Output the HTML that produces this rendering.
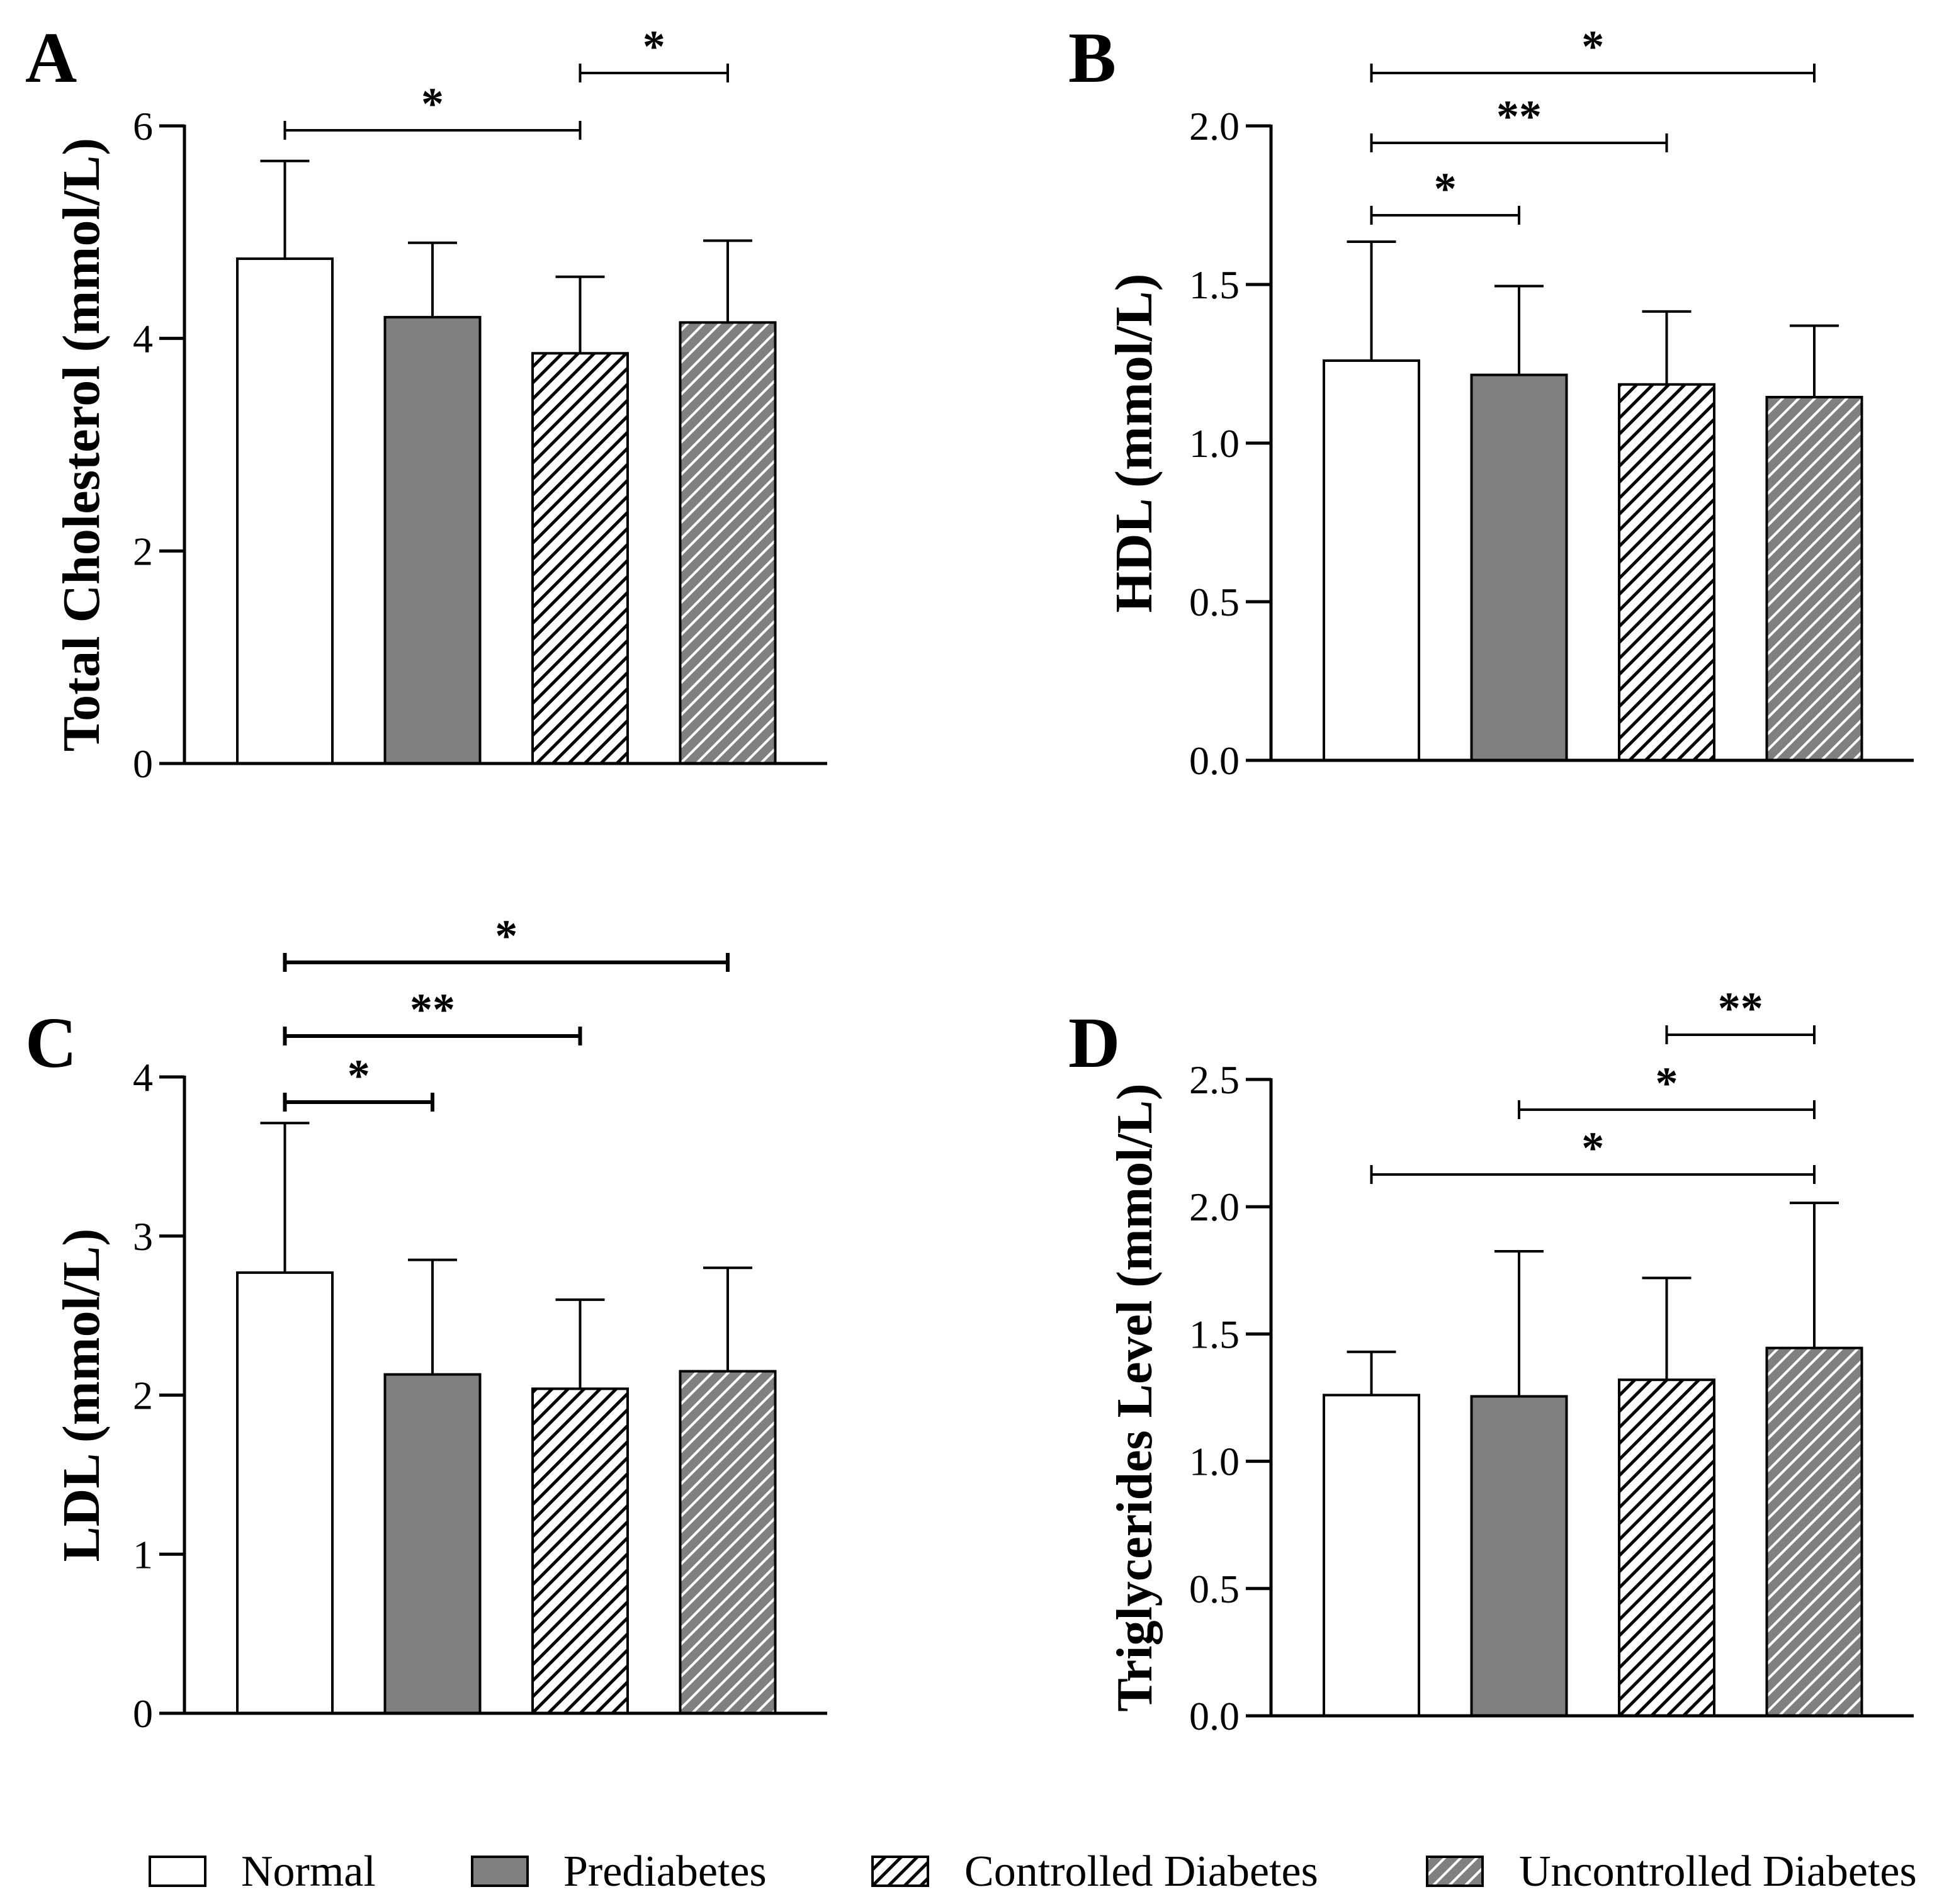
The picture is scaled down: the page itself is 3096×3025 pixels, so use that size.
<!DOCTYPE html>
<html><head><meta charset="utf-8"><style>
html,body{margin:0;padding:0;background:#fff;}
svg{display:block;}
text{font-family:"Liberation Serif",serif;fill:#000;}
</style></head><body>
<svg id="fig" width="3096" height="3025" viewBox="0 0 3096 3025" xmlns="http://www.w3.org/2000/svg">
<defs>
<pattern id="hatchBW" patternUnits="userSpaceOnUse" width="18" height="18" patternTransform="rotate(45)">
<rect width="18" height="18" fill="#fff"/><rect x="0" y="0" width="5" height="18" fill="#000"/>
</pattern>
<pattern id="hatchGW" patternUnits="userSpaceOnUse" width="18" height="18" patternTransform="rotate(45)">
<rect width="18" height="18" fill="#808080"/><rect x="0" y="0" width="4" height="18" fill="#fff"/>
</pattern>
</defs>
</svg>
<script>
const groups = ["Normal","Prediabetes","Controlled Diabetes","Uncontrolled Diabetes"];
const fills = ["#fff","#808080","url(#hatchBW)","url(#hatchGW)"];
const tcMeans = [4.75, 4.2, 3.86, 4.15];
const tcErr = [5.67, 4.9, 4.58, 4.92];
const tcTicks = [0, 2, 4, 6];
const hdlMeans = [1.26, 1.215, 1.185, 1.145];
const hdlErr = [1.635, 1.495, 1.415, 1.37];
const hdlTicks = ["0.0","0.5","1.0","1.5","2.0"];
const ldlMeans = [2.77, 2.13, 2.04, 2.15];
const ldlErr = [3.71, 2.85, 2.6, 2.8];
const ldlTicks = [0, 1, 2, 3, 4];
const tgMeans = [1.26, 1.255, 1.32, 1.445];
const tgErr = [1.43, 1.825, 1.72, 2.015];
const tgTicks = ["0.0","0.5","1.0","1.5","2.0","2.5"];
const tcSig = [[0,2,"*"],[2,3,"*"]];
const hdlSig = [[0,1,"*"],[0,2,"**"],[0,3,"*"]];
const ldlSig = [[0,1,"*"],[0,2,"**"],[0,3,"*"]];
const tgSig = [[0,3,"*"],[1,3,"*"],[2,3,"**"]];

const NS = "http://www.w3.org/2000/svg";
const svg = document.getElementById("fig");
function mk(tag, attrs, parent){
  const e = document.createElementNS(NS, tag);
  for (const k in attrs) e.setAttribute(k, attrs[k]);
  (parent||svg).appendChild(e);
  return e;
}
function panel(p){
  const g = mk("g", {});
  
  
  const maxV = parseFloat(p.ticks[p.ticks.length-1]);
  const y = v => p.y0 - (v/maxV)*(p.y0 - p.yTop);
  const barW = 151, gap = 234.5, off = 84;
  const xc = i => p.ax + off + i*gap + barW/2;
  const L = mk("text", {x:p.letterX, y:p.letterY, "font-size":114, "font-weight":"bold"}, g);
  L.textContent = p.letter;
  
  
  p.ticks.forEach(t => {
    const yy = y(parseFloat(t));
    const tl = mk("line", {x1:p.ax-40, x2:p.ax, y1:yy, y2:yy, stroke:"#000","stroke-width":5}, g);
    
    
    const tx = mk("text", {x:p.ax-50, y:yy+22, "font-size":64, "text-anchor":"end"}, g);
    tx.textContent = t;
    
    
  });
  p.means.forEach((m,i) => {
    const x0 = p.ax + off + i*gap;
    const eb = mk("line", {x1:xc(i), x2:xc(i), y1:y(m), y2:y(p.err[i]), stroke:"#000","stroke-width":4}, g);
    
    
    const cap = mk("line", {x1:xc(i)-39, x2:xc(i)+39, y1:y(p.err[i]), y2:y(p.err[i]), stroke:"#000","stroke-width":4}, g);
    
    
    const r = mk("rect", {x:x0, y:y(m), width:barW, height:p.y0-y(m), fill:fills[i], stroke:"#000","stroke-width":4}, g);
    
    
  });
  const ya = mk("line", {x1:p.ax, x2:p.ax, y1:p.yTop-2, y2:p.y0+2, stroke:"#000","stroke-width":5}, g);
  
  
  const xa = mk("line", {x1:p.ax-40, x2:p.ax+1021, y1:p.y0, y2:p.y0, stroke:"#000","stroke-width":5}, g);
  
  
  const tcx = p.ax-p.titleOff, tcy = (p.y0+p.yTop)/2;
  const tt = mk("text", {x:tcx, y:tcy, "font-size":p.titleSize, "font-weight":"bold", "text-anchor":"middle", transform:`rotate(-90 ${tcx} ${tcy})`}, g);
  tt.textContent = p.title;
  
  
  p.sig.forEach((s,k) => {
    const by = p.sigY[k];
    const sw = p.sigW;
    const bl = mk("line", {x1:xc(s[0]), x2:xc(s[1]), y1:by, y2:by, stroke:"#000","stroke-width":sw}, g);
    
    
    [s[0],s[1]].forEach(j => {
      const e = mk("line", {x1:xc(j), x2:xc(j), y1:by-15, y2:by+15, stroke:"#000","stroke-width":sw}, g);
      
      
    });
    const st = mk("text", {x:(xc(s[0])+xc(s[1]))/2, y:by-18, "font-size":72, "font-weight":"bold", "text-anchor":"middle"}, g);
    st.textContent = s[2];
    
    
  });
}
panel({name:"panel-a-total-cholesterol", letter:"A", letterX:40, letterY:130, ax:293, y0:1213, yTop:200, ticks:tcTicks, means:tcMeans, err:tcErr, title:"Total Cholesterol (mmol/L)", titleSize:84, titleOff:136, sig:tcSig, sigY:[207,116], sigW:4});
panel({name:"panel-b-hdl", letter:"B", letterX:1697, letterY:130, ax:2019, y0:1208, yTop:200, ticks:hdlTicks, means:hdlMeans, err:hdlErr, title:"HDL (mmol/L)", titleSize:84, titleOff:190, sig:hdlSig, sigY:[342,227,116], sigW:4});
panel({name:"panel-c-ldl", letter:"C", letterX:40, letterY:1695, ax:293, y0:2722, yTop:1711, ticks:ldlTicks, means:ldlMeans, err:ldlErr, title:"LDL (mmol/L)", titleSize:84, titleOff:136, sig:ldlSig, sigY:[1751,1646,1529], sigW:6});
panel({name:"panel-d-triglycerides", letter:"D", letterX:1697, letterY:1695, ax:2019, y0:2726, yTop:1715, ticks:tgTicks, means:tgMeans, err:tgErr, title:"Triglycerides Level (mmol/L)", titleSize:80, titleOff:190, sig:tgSig, sigY:[1866,1763,1644], sigW:4});

const legBox = [238, 750, 1386, 2267];
const legText = [383, 895, 1532, 2413];
const lg = mk("g", {});


groups.forEach((gname,i) => {
  const r = mk("rect", {x:legBox[i], y:2950, width:88, height:46, fill:fills[i], stroke:"#000","stroke-width":4}, lg);
  
  
  const t = mk("text", {x:legText[i], y:2996, "font-size":70}, lg);
  t.textContent = gname;
  
  
});
</script>
</body></html>
